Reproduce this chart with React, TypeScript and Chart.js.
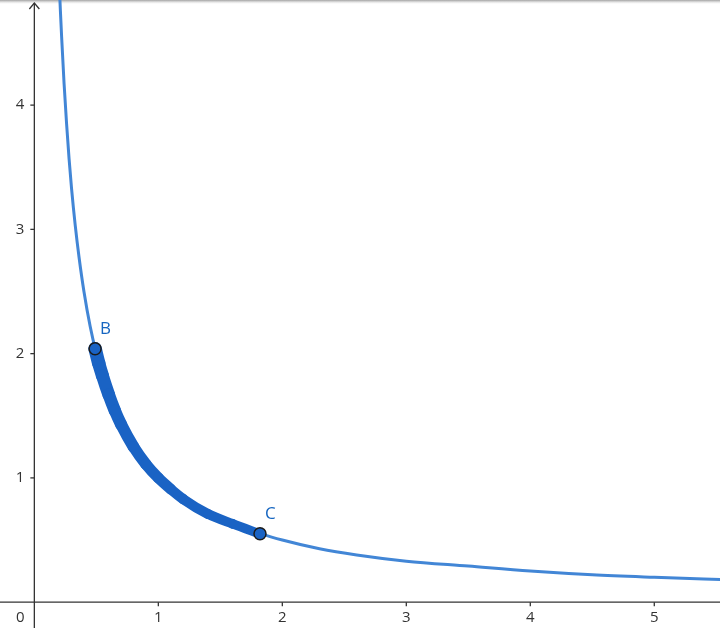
import React, { useEffect, useRef } from "react";
import { Chart, registerables } from "chart.js";

Chart.register(...registerables);

// Curve y = 1/x
const curveX = [0.2, 0.21, 0.22, 0.24, 0.26, 0.28, 0.3, 0.33, 0.36, 0.4, 0.45, 0.5, 0.55, 0.6, 0.7, 0.8, 0.9, 1, 1.1, 1.2, 1.4, 1.6, 1.8, 2, 2.3, 2.6, 3, 3.5, 4, 4.5, 5, 5.6];
const curveY = [5, 4.76, 4.55, 4.17, 3.85, 3.57, 3.33, 3.03, 2.78, 2.5, 2.22, 2, 1.82, 1.67, 1.43, 1.25, 1.11, 1, 0.91, 0.83, 0.71, 0.63, 0.56, 0.5, 0.43, 0.38, 0.33, 0.29, 0.25, 0.22, 0.2, 0.18];

// Thick highlighted arc between B and C
const arcX = [0.49, 0.52, 0.55, 0.6, 0.65, 0.7, 0.8, 0.9, 1, 1.1, 1.2, 1.4, 1.6, 1.82];
const arcY = [2.04, 1.92, 1.82, 1.67, 1.54, 1.43, 1.25, 1.11, 1, 0.91, 0.83, 0.71, 0.63, 0.55];

// Named points
const pointNames = ["B", "C"];
const pointX = [0.49, 1.82];
const pointY = [2.04, 0.55];

// Axis ticks
const xTicks = [1, 2, 3, 4, 5];
const yTicks = [1, 2, 3, 4];
const originLabel = "0";

const X_MIN = -0.277;
const X_MAX = 5.53;
const Y_MIN = -0.208;
const Y_MAX = 4.846;

const FONT = "15px 'Open Sans', 'Noto Sans', sans-serif";

const axesPlugin = {
  id: "geoAxes",
  beforeDatasetsDraw(chart: any) {
    const ctx = chart.ctx;
    const xs = chart.scales.x;
    const ys = chart.scales.y;
    const x0 = xs.getPixelForValue(0);
    const y0 = ys.getPixelForValue(0);
    const W = chart.width;
    const H = chart.height;
    ctx.save();
    // top border shadow
    const g = ctx.createLinearGradient(0, 0, 0, 4);
    g.addColorStop(0, "rgba(150,150,150,0.9)");
    g.addColorStop(1, "rgba(220,220,220,0)");
    ctx.fillStyle = g;
    ctx.fillRect(0, 0, W, 4);

    ctx.strokeStyle = "#333";
    ctx.lineWidth = 1.3;
    // x-axis
    ctx.beginPath();
    ctx.moveTo(0, y0);
    ctx.lineTo(W, y0);
    ctx.stroke();
    // y-axis
    ctx.beginPath();
    ctx.moveTo(x0, H);
    ctx.lineTo(x0, 3);
    ctx.stroke();
    // arrow
    ctx.beginPath();
    ctx.moveTo(x0 - 5, 9);
    ctx.lineTo(x0, 3);
    ctx.lineTo(x0 + 5, 9);
    ctx.stroke();

    ctx.fillStyle = "#333";
    ctx.font = FONT;
    ctx.textAlign = "center";
    ctx.textBaseline = "middle";
    xTicks.forEach((t) => {
      const px = xs.getPixelForValue(t);
      ctx.beginPath();
      ctx.moveTo(px, y0);
      ctx.lineTo(px, y0 + 4);
      ctx.stroke();
      ctx.fillText(String(t), px, y0 + 16);
    });
    ctx.fillText(originLabel, x0 - 14, y0 + 16);
    ctx.textAlign = "right";
    yTicks.forEach((t) => {
      const py = ys.getPixelForValue(t);
      ctx.beginPath();
      ctx.moveTo(x0, py);
      ctx.lineTo(x0 - 4, py);
      ctx.stroke();
      ctx.fillText(String(t), x0 - 10, py);
    });
    ctx.restore();
  },
  afterDatasetsDraw(chart: any) {
    const ctx = chart.ctx;
    const xs = chart.scales.x;
    const ys = chart.scales.y;
    ctx.save();
    ctx.fillStyle = "#1565c0";
    ctx.font = "17px 'Open Sans', 'Noto Sans', sans-serif";
    ctx.textAlign = "left";
    ctx.textBaseline = "middle";
    pointNames.forEach((n, i) => {
      const px = xs.getPixelForValue(pointX[i]);
      const py = ys.getPixelForValue(pointY[i]);
      ctx.fillText(n, px + 5, py - 20);
    });
    ctx.restore();
  },
};

export default function App() {
  const ref = useRef<HTMLCanvasElement>(null);
  useEffect(() => {
    document.body.style.margin = "0";
    const canvas = ref.current!;
    const n = arcX.length - 1;
    const chart = new Chart(canvas, {
      type: "scatter",
      data: {
        datasets: [
          {
            data: curveX.map((x, i) => ({ x, y: curveY[i] })),
            showLine: true,
            borderColor: "#4286d6",
            borderWidth: 3,
            pointRadius: 0,
            cubicInterpolationMode: "monotone",
            order: 3,
          } as any,
          {
            data: arcX.map((x, i) => ({ x, y: arcY[i] })),
            showLine: true,
            borderColor: "#1a63c4",
            borderWidth: 11,
            pointRadius: 0,
            cubicInterpolationMode: "monotone",
            borderCapStyle: "round",
            segment: {
              borderWidth: (c: any) => 13.5 - (4.5 * c.p0DataIndex) / n,
            },
            order: 2,
          } as any,
          {
            data: pointX.map((x, i) => ({ x, y: pointY[i] })),
            showLine: false,
            pointRadius: 6,
            pointBackgroundColor: "#1a63c4",
            pointBorderColor: "#1b1b1b",
            pointBorderWidth: 1.5,
            order: 1,
          } as any,
        ],
      },
      options: {
        responsive: false,
        animation: false,
        layout: { padding: 0, autoPadding: false } as any,
        clip: false as any,
        plugins: { legend: { display: false }, tooltip: { enabled: false } },
        scales: {
          x: { type: "linear", min: X_MIN, max: X_MAX, display: false },
          y: { type: "linear", min: Y_MIN, max: Y_MAX, display: false },
        },
      },
      plugins: [axesPlugin],
    });
    return () => chart.destroy();
  }, []);
  return <canvas ref={ref} width={720} height={628} style={{ display: "block" }} />;
}
